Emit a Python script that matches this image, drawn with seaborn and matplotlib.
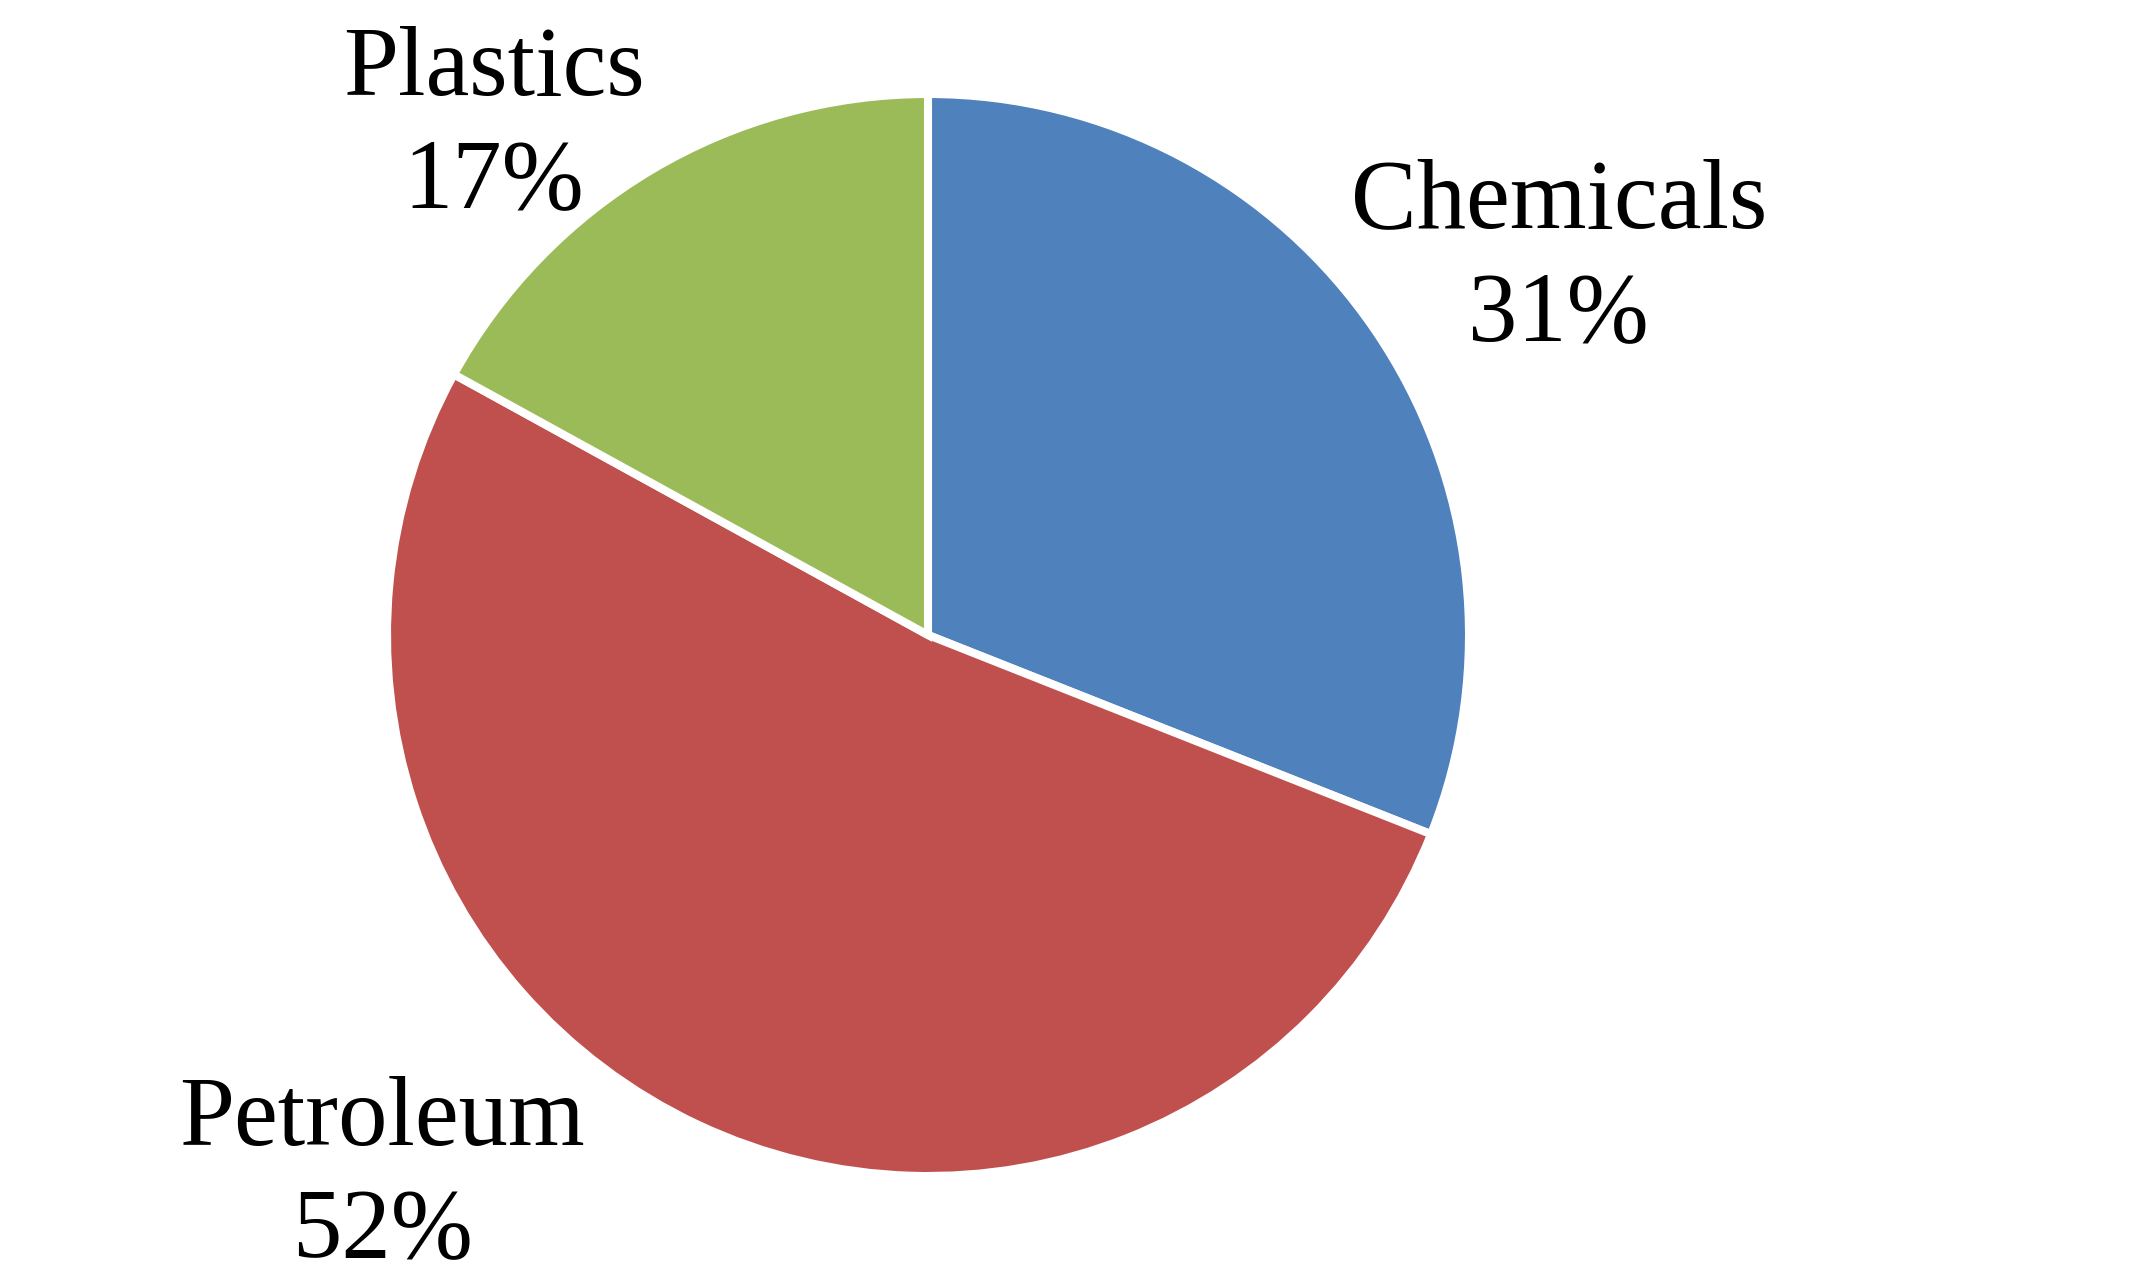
import matplotlib
matplotlib.use("Agg")
import matplotlib.pyplot as plt
import seaborn as sns

categories = ["Chemicals", "Petroleum", "Plastics"]
shares = [31, 52, 17]
colors = ["#4F81BD", "#C0504D", "#9BBB59"]
pct_labels = ["31%", "52%", "17%"]

sns.set_theme(style="white")
plt.rcParams["font.family"] = ["Liberation Serif", "DejaVu Serif"]

W, H, DPI = 2137, 1279, 100
fig = plt.figure(figsize=(W / DPI, H / DPI), dpi=DPI)
ax = fig.add_axes([0, 0, 1, 1])

cx, cy, S = 928, 644, 541  # pixel centre (from bottom) and pixels per unit

ax.pie(shares, colors=colors, startangle=90, counterclock=False, radius=1.0,
       center=(0, 0), frame=True,
       wedgeprops=dict(edgecolor="white", linewidth=5.8))
ax.set_xlim(-cx / S, (W - cx) / S)
ax.set_ylim(-cy / S, (H - cy) / S)
ax.set_aspect("equal")
ax.axis("off")

label_pos = {"Chemicals": (1.166, 0.754, 0.545),
             "Petroleum": (-1.009, -0.943, -1.150),
             "Plastics": (-0.802, 0.998, 0.791)}
fs = 71
for cat, pct in zip(categories, pct_labels):
    x, y1, y2 = label_pos[cat]
    ax.text(x, y1, cat, ha="center", va="baseline", fontsize=fs, color="black")
    ax.text(x, y2, pct, ha="center", va="baseline", fontsize=fs, color="black")

fig.savefig("out.png", dpi=DPI, facecolor="white")
